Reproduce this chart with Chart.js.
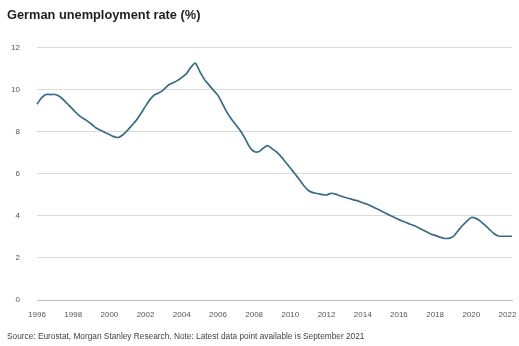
<!DOCTYPE html>
<html>
<head>
<meta charset="utf-8">
<script src="https://cdn.jsdelivr.net/npm/chart.js@4/dist/chart.umd.min.js"></script>
<style>
    body { margin: 0; background: #fff; }
    #wrap { width: 519px; height: 346px; position: relative; }
</style>
</head>
<body>
<div id="wrap"><canvas id="chart"></canvas></div>
<script>
const TITLE = 'German unemployment rate (%)';
const FOOTNOTE = 'Source: Eurostat, Morgan Stanley Research. Note: Latest data point available is September 2021';

const START_YEAR = 1996;
const END_YEAR = 2022;

// years shown under the x axis
const tickYears = ['1996', '1998', '2000', '2002', '2004', '2006', '2008', '2010', '2012', '2014', '2016', '2018', '2020', '2022'];

// y axis ticks (%)
const yTicks = [0, 2, 4, 6, 8, 10, 12];

// unemployment rate, quarterly, 1996 Q1 .. 2022 Q2
const rates = [
    9.30, 9.60, 9.76, 9.76,   // 1996
    9.76, 9.67, 9.48, 9.26,   // 1997
    9.04, 8.82, 8.65, 8.52,   // 1998
    8.36, 8.18, 8.07, 7.96,   // 1999
    7.86, 7.76, 7.72, 7.85,   // 2000
    8.06, 8.30, 8.55, 8.87,   // 2001
    9.21, 9.53, 9.75, 9.84,   // 2002
    9.99, 10.20, 10.31, 10.42, // 2003
    10.57, 10.74, 11.05, 11.25, // 2004
    10.85, 10.48, 10.22, 9.97, // 2005
    9.72, 9.32, 8.91, 8.59,   // 2006
    8.31, 8.03, 7.67, 7.27,   // 2007
    7.05, 7.04, 7.21, 7.33,   // 2008
    7.18, 7.02, 6.80, 6.53,   // 2009
    6.27, 6.00, 5.72, 5.43,   // 2010
    5.20, 5.10, 5.06, 5.01,   // 2011
    4.99, 5.07, 5.03, 4.95,   // 2012
    4.88, 4.82, 4.76, 4.70,   // 2013
    4.62, 4.55, 4.45, 4.35,   // 2014
    4.24, 4.13, 4.03, 3.92,   // 2015
    3.82, 3.73, 3.64, 3.56,   // 2016
    3.47, 3.36, 3.25, 3.14,   // 2017
    3.07, 2.99, 2.93, 2.93,   // 2018
    3.01, 3.27, 3.53, 3.74,   // 2019
    3.92, 3.88, 3.75, 3.56,   // 2020
    3.36, 3.16, 3.04, 3.03,   // 2021
    3.03, 3.03                // 2022
];

// category labels, one per quarter
const quarters = [];
for (let y = START_YEAR; y <= END_YEAR; y++) {
    for (let q = 1; q <= 4; q++) {
        if (quarters.length < rates.length) quarters.push(`${y} Q${q}`);
    }
}

const FONT = "'Liberation Sans', Arial, sans-serif";

var ctx = document.getElementById('chart').getContext('2d');
new Chart(ctx, {
    type: 'line',
    data: {
        labels: quarters,
        datasets: [{
            label: TITLE,
            data: rates,
            borderColor: '#3b6b83',
            borderWidth: 1.7,
            pointRadius: 0,
            tension: 0.25,
            fill: false
        }]
    },
    options: {
        responsive: true,
        maintainAspectRatio: false,
        animation: false,
        layout: {
            padding: { left: 7, right: 0, top: 0, bottom: 0 }
        },
        plugins: {
            legend: { display: false },
            tooltip: { enabled: false },
            title: {
                display: true,
                text: TITLE,
                align: 'start',
                color: '#1e1e1e',
                font: { family: FONT, size: 12.8, weight: 'bold' },
                padding: { top: 8, bottom: 24 }
            },
            subtitle: {
                display: true,
                position: 'bottom',
                text: FOOTNOTE,
                align: 'start',
                color: '#444',
                font: { family: FONT, size: 8.3 },
                padding: { top: 10, bottom: 4 }
            }
        },
        scales: {
            x: {
                grid: { display: false },
                border: { display: true, color: '#bdbdbd', width: 1, dash: [2, 2] },
                ticks: {
                    autoSkip: false,
                    maxRotation: 0,
                    padding: 2,
                    color: '#555',
                    font: { family: FONT, size: 8 },
                    callback: function(val) {
                        var lab = this.getLabelForValue(val);
                        var year = lab.slice(0, 4);
                        return lab.endsWith('Q1') && tickYears.includes(year) ? year : null;
                    }
                },
                afterFit: (s) => {
                    s.height = 22;
                    s.paddingLeft = 0;
                    s.paddingRight = 7;
                }
            },
            y: {
                min: yTicks[0],
                max: yTicks[yTicks.length - 1],
                border: { display: false },
                grid: {
                    drawTicks: false,
                    color: (c) => c.tick.value === 0 ? 'rgba(0,0,0,0)' : '#dadada'
                },
                ticks: {
                    stepSize: 2,
                    padding: 17,
                    color: '#555',
                    font: { family: FONT, size: 8 }
                },
                afterFit: (s) => { s.width = 30; }
            }
        }
    }
});
</script>
</body>
</html>
